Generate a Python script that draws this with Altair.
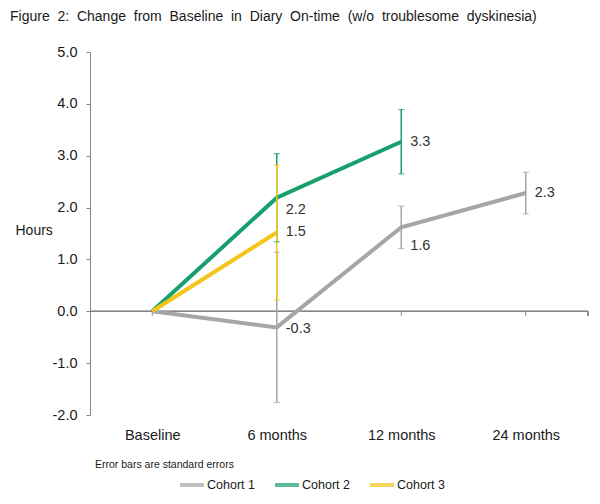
import altair as alt
import pandas as pd

title_text = "Figure 2:  Change from Baseline in Diary On-time (w/o troublesome dyskinesia)"
note_text = "Error bars are standard errors"
categories = ["Baseline", "6 months", "12 months", "24 months"]
cohorts = ["Cohort 1", "Cohort 2", "Cohort 3"]
c1_mean = [0.0, -0.31, 1.62, 2.28]
c1_se = [None, 1.45, 0.41, 0.40]
c2_mean = [0.0, 2.19, 3.27]
c2_se = [None, 0.85, 0.62]
c3_mean = [0.0, 1.52]
c3_se = [None, 1.30]
y_ticks = [-2, -1, 0, 1, 2, 3, 4, 5]
colors = ["#A6A6A6", "#17A06B", "#F3C41A"]

rows = []
for name, means, ses in zip(cohorts, [c1_mean, c2_mean, c3_mean], [c1_se, c2_se, c3_se]):
    for i, (m, s) in enumerate(zip(means, ses)):
        rows.append({
            "cohort": name,
            "time": categories[i],
            "idx": i,
            "mean": m,
            "lo": None if s is None else m - s,
            "hi": None if s is None else m + s,
            "label": "" if s is None else f"{m:.1f}",
        })
df = pd.DataFrame(rows)
ticks_df = pd.DataFrame({"time": categories})

# widen word gaps like the original typesetting
title_shown = title_text.replace("  ", " ").replace(" ", " \u00a0")

W, H = 498, 363
axis_gray = "#868686"
text_col = "#333333"
dark = "#1a1a1a"

xs = alt.X("time:N", sort=categories,
           scale=alt.Scale(type="point", padding=0.5, domain=categories),
           axis=alt.Axis(title=None, domain=False, ticks=False, labelAngle=0,
                         labelPadding=13, labelFontSize=14.5, labelColor=dark))
ys = alt.Y("mean:Q", scale=alt.Scale(domain=[-2, 5], nice=False, zero=False),
           axis=alt.Axis(values=y_ticks, format=".1f",
                         labelExpr="replace(datum.label, '\u2212', '-')",
                         grid=False, domainColor=axis_gray,
                         tickColor=axis_gray, tickSize=4, labelPadding=9,
                         labelFontSize=14.5, labelColor=dark,
                         title="Hours", titleAngle=0, titleX=-75, titleY=178,
                         titleAlign="left", titleBaseline="middle",
                         titleFontWeight="normal", titleFontSize=14, titleColor=dark))
col = alt.Color("cohort:N", scale=alt.Scale(domain=cohorts, range=colors),
                legend=alt.Legend(title=None, orient="none", legendX=88, legendY=419,
                                  direction="horizontal", symbolType="stroke",
                                  symbolStrokeWidth=4, symbolSize=576, labelOffset=1,
                                  columnPadding=12, labelFontSize=12.5, labelColor=dark))

base = alt.Chart(df)

zero_line = alt.Chart(ticks_df).mark_rule(color=axis_gray, strokeWidth=1).encode(
    x=alt.value(0), x2=alt.value(W), y=alt.datum(0))
cat_ticks = alt.Chart(ticks_df).mark_rule(color=axis_gray, strokeWidth=1).encode(
    x=xs, y=alt.datum(0), y2=alt.datum(-0.09))
end_tick = alt.Chart(ticks_df).mark_rule(color=axis_gray, strokeWidth=1).encode(
    x=alt.value(W), y=alt.datum(0), y2=alt.datum(-0.09))

err = base.transform_filter("datum.lo != null").mark_rule(strokeWidth=1.5).encode(
    x=xs, y="lo:Q", y2="hi:Q", color=col)
cap_lo = base.transform_filter("datum.lo != null").mark_tick(size=6, thickness=1.2).encode(
    x=xs, y="lo:Q", color=col)
cap_hi = base.transform_filter("datum.lo != null").mark_tick(size=6, thickness=1.2).encode(
    x=xs, y="hi:Q", color=col)

lines = base.mark_line(strokeWidth=4).encode(
    x=xs, y=ys, color=col, order=alt.Order("idx:Q", sort="ascending"))

def lbl(filter_expr, dy):
    return base.transform_filter(filter_expr).mark_text(
        align="left", baseline="middle", dx=9, dy=dy, fontSize=14.5, color=text_col
    ).encode(x=xs, y="mean:Q", text="label:N")

labels_right = lbl("datum.label == '1.5' || datum.label == '3.3' || datum.label == '2.3'", 0)
labels_neg = lbl("datum.label == '-0.3'", 2)
labels_22 = lbl("datum.label == '2.2'", 12)
labels_16 = lbl("datum.label == '1.6'", 19)

note = alt.Chart(pd.DataFrame({"t": [note_text]})).mark_text(
    align="left", baseline="middle", fontSize=10.5, color=dark).encode(
    x=alt.value(5), y=alt.value(413), text="t:N")

chart = alt.layer(
    zero_line, cat_ticks, end_tick, lines, err, cap_lo, cap_hi,
    labels_right, labels_neg, labels_22, labels_16, note
).properties(
    width=W, height=H,
    title=alt.Title(title_shown, anchor="start", frame="group", dx=-80, fontSize=14,
                    fontWeight="normal", color=dark, offset=20, limit=580),
    autosize=alt.AutoSizeParams(type="none"),
    padding={"left": 82, "top": 44, "right": 4, "bottom": 88},
).configure(font="Liberation Sans").configure_view(stroke=None)

chart.save("out.html", embed_options={"renderer": "svg", "actions": False})
